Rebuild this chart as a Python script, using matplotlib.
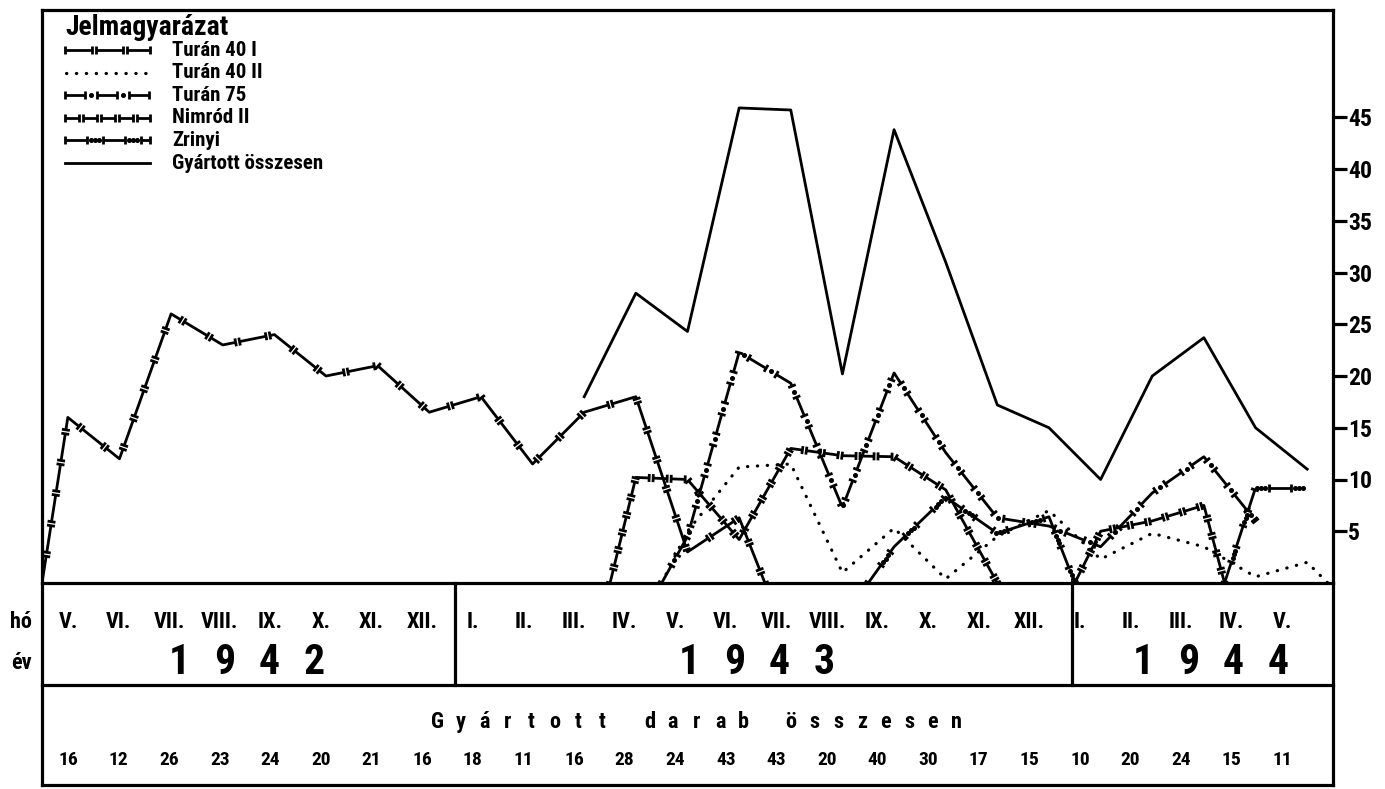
import numpy as np
import matplotlib
matplotlib.use('agg')
import matplotlib.pyplot as plt
from matplotlib import font_manager as fm
from matplotlib.collections import LineCollection
from matplotlib.lines import Line2D
from matplotlib.transforms import IdentityTransform

# ---- data (month index 0 = 1942 V. ... 24 = 1944 V.) ----
nan = np.nan
turan40_1_x = [-0.5, 0, 1, 2, 3, 4, 5, 6, 7, 8, 9, 10, 11, 12, 13, 13.5]
turan40_1_y = [0, 16, 12, 26, 23, 24, 20, 21, 16.5, 18, 11.5, 16.5, 18, 3, 6.3, 0]

turan40_2_x = [11.5, 12, 13, 14, 15, 16, 17, 18, 19, 20, 21, 22, 23, 24, 24.4]
turan40_2_y = [0, 5, 11.2, 11.5, 1, 5.3, 0.4, 4.5, 7, 2.3, 4.8, 3.5, 0.6, 2, 0]

turan75_x = [11.5, 12, 13, 14, 15, 16, 17, 18, 19, 20, 21, 22, 23]
turan75_y = [0, 4.5, 22.3, 19.3, 7.3, 20.3, 12.6, 6.3, 5.5, 3.5, 8.7, 12.2, 6]

nimrod_x = [10.5, 11, 12, 13, 14, 15, 16, 17, 18, nan, 19.5, 20, 21, 22, 22.4]
nimrod_y = [0, 10.2, 10, 4.2, 13, 12.3, 12.2, 9, 0, nan, 0, 5, 6, 7.5, 0]

zrinyi_x = [15.5, 16, 17, 18, 19, 19.5, nan, 22.4, 23, 24]
zrinyi_y = [0, 3.5, 8.3, 4.8, 6.4, 0, nan, 0, 9.2, 9.2]

total_x = [10, 11, 12, 13, 14, 15, 16, 17, 18, 19, 20, 21, 22, 23, 24]
total_y = [18, 28, 24.3, 45.9, 45.7, 20.2, 43.8, 31, 17.2, 15, 10, 20, 23.7, 15, 11]

months = ['V.', 'VI.', 'VII.', 'VIII.', 'IX.', 'X.', 'XI.', 'XII.',
          'I.', 'II.', 'III.', 'IV.', 'V.', 'VI.', 'VII.', 'VIII.', 'IX.', 'X.', 'XI.', 'XII.',
          'I.', 'II.', 'III.', 'IV.', 'V.']
years = ['1942', '1943', '1944']
produced = [16, 12, 26, 23, 24, 20, 21, 16, 18, 11, 16, 28, 24, 43, 43, 20, 40, 30, 17, 15,
            10, 20, 24, 15, 11]
yticks = [5, 10, 15, 20, 25, 30, 35, 40, 45]

names = {f.name for f in fm.fontManager.ttflist}
FONT = 'DejaVu Sans'
for cand in ['Roboto Condensed', 'Liberation Sans Narrow', 'Open Sans Condensed']:
    if cand in names:
        FONT = cand
        break
plt.rcParams['font.family'] = [FONT, 'DejaVu Sans']
plt.rcParams['font.weight'] = 'bold'

W, H = 1385, 789
fig = plt.figure(figsize=(W / 100, H / 100), dpi=100)

L, R, T, B = 42, 1333, 10, 583
ax = fig.add_axes([L / W, (H - B) / H, (R - L) / W, (B - T) / H])
ax.set_xlim(-0.5, 24.5)
ax.set_ylim(0, (B - T) / 10.35)
for s in ax.spines.values():
    s.set_linewidth(2.3)
ax.set_xticks([])
ax.yaxis.tick_right()
ax.set_yticks(yticks)
ax.tick_params(axis='y', direction='out', length=10, width=2.3, labelsize=17, pad=1)

# overlay in image pixel coords for table and legend
ov = fig.add_axes([0, 0, 1, 1])
ov.set_xlim(0, W)
ov.set_ylim(H, 0)
ov.axis('off')
ov.patch.set_alpha(0)


def pattern_line(a, xs, ys, dash, gap, ndots=0, cap=4, lw=2.0):
    P = a.transData.transform(np.column_stack([xs, ys]).astype(float))
    ok = ~np.isnan(P).any(axis=1)
    segs, dots = [], []
    runs, cur = [], []
    for p, g in zip(P, ok):
        if g:
            cur.append(p)
        elif cur:
            runs.append(cur); cur = []
    if cur:
        runs.append(cur)
    for run in runs:
        seg = np.array(run)
        d = np.hypot(*np.diff(seg, axis=0).T)
        s = np.concatenate([[0], np.cumsum(d)])
        tot = s[-1]

        def at(t):
            i = min(max(np.searchsorted(s, t, side='right') - 1, 0), len(d) - 1)
            u = (seg[i + 1] - seg[i]) / d[i]
            return seg[i] + u * (t - s[i]), u
        t = 0.0
        while t < tot:
            a0, b0 = t, min(t + dash, tot)
            inner = seg[(s > a0) & (s < b0)]
            pa, ua = at(a0)
            pb, ub = at(b0)
            segs.append(np.vstack([pa, inner, pb]))
            for p, u in ((pa, ua), (pb, ub)):
                n = np.array([-u[1], u[0]])
                segs.append(np.array([p - n * cap, p + n * cap]))
            for j in range(ndots):
                tt = b0 + gap * (j + 1) / (ndots + 1)
                if tt < tot:
                    dots.append(at(tt)[0])
            t += dash + gap
    a.add_collection(LineCollection(segs, colors='black', linewidths=lw,
                                    transform=IdentityTransform(), zorder=3), autolim=False)
    if dots:
        dd = np.array(dots)
        a.add_artist(Line2D(dd[:, 0], dd[:, 1], ls='none', marker='o', ms=2.6, color='black',
                            transform=IdentityTransform(), zorder=3))


def dotted(a, xs, ys):
    a.plot(xs, ys, color='black', lw=2.3, linestyle=(0, (0.1, 3.0)),
           dash_capstyle='round', zorder=3)


styles = {
    'Turán 40 I': dict(dash=27, gap=4),
    'Turán 75': dict(dash=20, gap=12, ndots=1),
    'Nimród II': dict(dash=14, gap=4),
    'Zrinyi': dict(dash=22, gap=16, ndots=3),
}

fig.canvas.draw()
pattern_line(ax, turan40_1_x, turan40_1_y, **styles['Turán 40 I'])
dotted(ax, turan40_2_x, turan40_2_y)
pattern_line(ax, turan75_x, turan75_y, **styles['Turán 75'])
pattern_line(ax, nimrod_x, nimrod_y, **styles['Nimród II'])
pattern_line(ax, zrinyi_x, zrinyi_y, **styles['Zrinyi'])
ax.plot(total_x, total_y, color='black', lw=2.0, zorder=3)

# ---- legend ----
ov.text(65, 27, 'Jelmagyarázat', fontsize=20, fontweight='bold', va='center', ha='left')
leg = ['Turán 40 I', 'Turán 40 II', 'Turán 75', 'Nimród II', 'Zrinyi', 'Gyártott összesen']
for k, lab in enumerate(leg):
    y = 50 + 22.6 * k
    if lab in styles:
        pattern_line(ov, [65, 150], [y, y], **styles[lab])
    elif lab == 'Turán 40 II':
        dotted(ov, [66, 150], [y, y])
    else:
        ov.plot([65, 150], [y, y], color='black', lw=2.0)
    ov.text(172, y, lab, fontsize=15, va='center', ha='left')

# ---- table ----
lw_t = 2.3
ov.plot([L, R], [685, 685], color='black', lw=lw_t)
ov.plot([L, R], [785, 785], color='black', lw=lw_t)
ov.plot([L, L], [B, 785], color='black', lw=lw_t)
ov.plot([R, R], [B, 785], color='black', lw=lw_t)
for xs in (455, 1072):
    ov.plot([xs, xs], [B, 685], color='black', lw=lw_t)

ov.text(21, 622, 'hó', fontsize=16, ha='center', va='center')
ov.text(21, 663, 'év', fontsize=16, ha='center', va='center')
for i, m in enumerate(months):
    ov.text(68 + 50.6 * i, 622, m, fontsize=16, ha='center', va='center')
for yr, cx in zip(years, (247, 757, 1211)):
    for j, ch in enumerate(yr):
        ov.text(cx + (j - 1.5) * 45, 663, ch, fontsize=30, ha='center', va='center')

title = 'Gyártott darab összesen'
for j, ch in enumerate(title):
    ov.text(437 + j * 23.6, 722, ch, fontsize=16, ha='center', va='center')
for i, v in enumerate(produced):
    ov.text(68 + 50.6 * i, 760, str(v), fontsize=14, ha='center', va='center')

fig.savefig('out.png', dpi=100)
